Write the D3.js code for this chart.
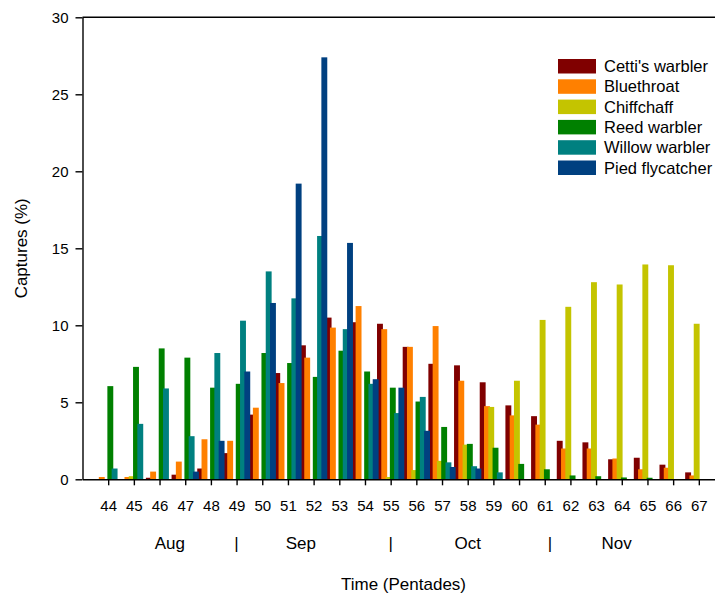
<!DOCTYPE html>
<html>
<head>
<meta charset="utf-8">
<script src="https://cdn.jsdelivr.net/npm/d3@7"></script>
<style>
  html, body { margin: 0; padding: 0; background: #fff; }
  svg { display: block; font-family: "Liberation Sans", Arial, sans-serif; }
</style>
</head>
<body>
<svg id="chart" width="715" height="596"></svg>
<script>
// Pentades (five-day periods of the year) on the x axis
const pentades = d3.range(44, 68);

// Species shown, in drawing / legend order
const species = ["Cetti's warbler", "Bluethroat", "Chiffchaff", "Reed warbler", "Willow warbler", "Pied flycatcher"];
const colors  = ["#800000", "#ff8000", "#c4c400", "#008000", "#008080", "#004080"];

// Captures (%) per pentade, 44 .. 67
const cetti     = [0, 0, 0.1, 0.3, 0.7, 1.7, 4.2, 6.9, 8.7, 10.5, 10.2, 10.1, 8.6, 7.5, 7.4, 6.3, 4.8, 4.1, 2.5, 2.4, 1.3, 1.4, 0.95, 0.45];
const bluethroat= [0.15, 0.15, 0.5, 1.15, 2.6, 2.5, 4.65, 6.25, 7.9, 9.85, 11.25, 9.75, 8.6, 9.95, 6.4, 4.75, 4.15, 3.55, 2.0, 2.0, 1.35, 0.65, 0.75, 0.25];
const chiffchaff= [0, 0.2, 0, 0, 0, 0, 0, 0, 0, 0, 0, 0.15, 0.6, 1.2, 2.25, 4.7, 6.4, 10.35, 11.2, 12.8, 12.65, 13.95, 13.9, 10.1];
const reed      = [6.05, 7.3, 8.5, 7.9, 5.95, 6.2, 8.2, 7.55, 6.65, 8.35, 7.0, 5.95, 5.05, 3.4, 2.3, 2.05, 1.0, 0.65, 0.25, 0.2, 0.12, 0.1, 0, 0];
const willow    = [0.7, 3.6, 5.9, 2.8, 8.2, 10.3, 13.5, 11.75, 15.8, 9.75, 6.2, 4.3, 5.35, 1.1, 0.85, 0.45, 0, 0, 0, 0, 0, 0, 0, 0];
const pied      = [0, 0, 0, 0.5, 2.5, 7.0, 11.45, 19.2, 27.4, 15.35, 6.5, 5.95, 3.15, 0.8, 0.7, 0, 0, 0, 0, 0, 0, 0, 0, 0];
const seriesValues = [cetti, bluethroat, chiffchaff, reed, willow, pied];

// Y ticks and month annotations beneath the pentade labels
const yTicks = [0, 5, 10, 15, 20, 25, 30];
const months = ["Aug", "Sep", "Oct", "Nov"];
const monthPos = [46.4, 51.5, 58.0, 63.8];
const monthBreaks = [49, 55, 61.2];

const svg = d3.select("#chart");

const x = d3.scaleLinear().domain([43, 68]).range([82.5, 724.5]);
const y = d3.scaleLinear().domain([0, 30]).range([479.3, 17.3]);
const step = x(1) - x(0);
const xs = d3.scaleBand().domain(species).range([-step / 2, step / 2]).padding(0);
const barW = 5.9;

// Bars: one group per species, later species drawn over earlier ones
species.forEach((name, si) => {
  const rows = pentades.map((p, i) => ({ p, v: seriesValues[si][i] }));
  svg.append("g")
    .selectAll("rect")
    .data(rows.filter(d => d.v > 0))
    .join("rect")
    .attr("x", d => x(d.p) + xs(name) + xs.bandwidth() / 2 - barW / 2)
    .attr("width", barW)
    .attr("y", d => y(d.v))
    .attr("height", d => y(0) - y(d.v))
    .attr("fill", colors[si]);
});

// Frame: top border
svg.append("line")
  .attr("x1", x(43)).attr("x2", x(68))
  .attr("y1", y(30)).attr("y2", y(30))
  .attr("stroke", "#000").attr("stroke-width", 1.4);

// Y axis
const yAxis = svg.append("g")
  .attr("transform", `translate(${x(43)},0)`)
  .call(d3.axisLeft(y).tickValues(yTicks).tickSize(7).tickPadding(7).tickSizeOuter(0));
yAxis.selectAll("text").attr("font-size", 15).attr("fill", "#000").attr("font-family", "Liberation Sans, Arial, sans-serif");
yAxis.selectAll("line, path").attr("stroke", "#000").attr("stroke-width", 1.4);

// X axis
const xAxis = svg.append("g")
  .attr("transform", `translate(0,${y(0)})`)
  .call(d3.axisBottom(x).tickValues(pentades).tickFormat(d3.format("d")).tickSize(6).tickPadding(15).tickSizeOuter(0));
xAxis.selectAll("text").attr("font-size", 15).attr("fill", "#000").attr("font-family", "Liberation Sans, Arial, sans-serif");
xAxis.selectAll("line, path").attr("stroke", "#000").attr("stroke-width", 1.4);

// Month labels and separators
svg.append("g").selectAll("text")
  .data(months)
  .join("text")
  .attr("x", (d, i) => x(monthPos[i]))
  .attr("y", 549)
  .attr("text-anchor", "middle")
  .attr("font-size", 17)
  .text(d => d);
svg.append("g").selectAll("text")
  .data(monthBreaks)
  .join("text")
  .attr("x", d => x(d))
  .attr("y", 549)
  .attr("text-anchor", "middle")
  .attr("font-size", 17)
  .text("|");

// Axis titles
svg.append("text")
  .attr("x", (x(43) + x(68)) / 2)
  .attr("y", 590)
  .attr("text-anchor", "middle")
  .attr("font-size", 17)
  .text("Time (Pentades)");
svg.append("text")
  .attr("transform", `translate(27,${(y(0) + y(30)) / 2}) rotate(-90)`)
  .attr("text-anchor", "middle")
  .attr("font-size", 17)
  .text("Captures (%)");

// Legend
const legend = svg.append("g").attr("transform", "translate(558,59)");
const item = legend.selectAll("g")
  .data(species)
  .join("g")
  .attr("transform", (d, i) => `translate(0,${i * 20.3})`);
item.append("rect")
  .attr("width", 38).attr("height", 14.5)
  .attr("fill", (d, i) => colors[i]);
item.append("text")
  .attr("x", 46).attr("y", 13)
  .attr("font-size", 16.5)
  .text(d => d);
</script>
</body>
</html>
